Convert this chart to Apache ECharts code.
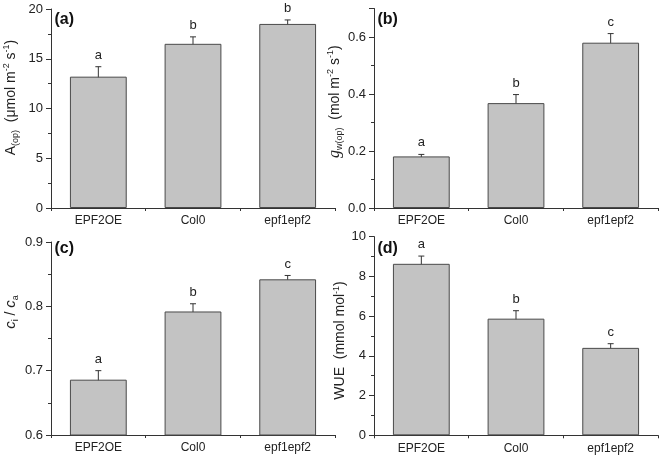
<!DOCTYPE html>
<html><head><meta charset="utf-8">
<script src="https://cdn.jsdelivr.net/npm/echarts@6/dist/echarts.min.js"></script>
<style>html,body{margin:0;padding:0;background:#fff}#c{width:662px;height:464px}</style>
</head><body><div id="c"></div>
<script>
const categories = ['EPF2OE', 'Col0', 'epf1epf2'];
const aValues = [13.2, 16.5, 18.5];
const aErr = [1.0, 0.7, 0.4];
const aLetters = ['a', 'b', 'b'];
const gValues = [0.181, 0.368, 0.580];
const gErr = [0.007, 0.030, 0.032];
const gLetters = ['a', 'b', 'c'];
const ciValues = [0.686, 0.792, 0.842];
const ciErr = [0.014, 0.012, 0.006];
const ciLetters = ['a', 'b', 'c'];
const wueValues = [8.63, 5.87, 4.40];
const wueErr = [0.39, 0.40, 0.21];
const wueLetters = ['a', 'b', 'c'];
const panelLabels = ['(a)', '(b)', '(c)', '(d)'];

const FONT = 'Liberation Sans, Arial, sans-serif';
const AX = '#333';
const TXT = '#222';

const grids = [
  {left: 51, top: 9, width: 284, height: 199},
  {left: 374, top: 8.5, width: 284, height: 199.5},
  {left: 51, top: 242, width: 284, height: 193},
  {left: 374, top: 236.6, width: 284, height: 198.7}
];

const panels = [
  {vals: aValues, err: aErr, let: aLetters, min: 0, max: 20, interval: 5, dec: 0, hideMax: false,
   name: '{n|A}{sub|(op)}{n|  (μmol m}{sup|-2}{n| s}{sup|-1}{n|)}', gap: 31, pad: [0, 0, 0, 22]},
  {vals: gValues, err: gErr, let: gLetters, min: 0, max: 0.7, interval: 0.2, dec: 1, hideMax: true,
   name: '{g|g}{sub|w(op)}{n|  (mol m}{sup|-2}{n| s}{sup|-1}{n|)}', gap: 30, pad: [0, 0, 0, 13]},
  {vals: ciValues, err: ciErr, let: ciLetters, min: 0.6, max: 0.9, interval: 0.1, dec: 1, hideMax: false,
   name: '{i|c}{sub|i}{n| / }{i|c}{sub|a}', gap: 31, pad: [0, 0, 0, 53]},
  {vals: wueValues, err: wueErr, let: wueLetters, min: 0, max: 10, interval: 2, dec: 0, hideMax: false,
   name: '{n|WUE  (mmol mol}{sup|-1}{n|)}', gap: 24, pad: [0, 9, 0, 0]}
];

const rich = {
  n: {fontSize: 14, fontFamily: FONT, color: TXT, lineHeight: 18, verticalAlign: 'middle'},
  g: {fontSize: 16, fontFamily: 'Liberation Serif, serif', fontStyle: 'italic', color: TXT, lineHeight: 18, verticalAlign: 'middle'},
  i: {fontSize: 15, fontFamily: FONT, fontStyle: 'italic', color: TXT, lineHeight: 18, verticalAlign: 'middle'},
  sub: {fontSize: 9, fontFamily: FONT, color: TXT, lineHeight: 18, verticalAlign: 'bottom'},
  sup: {fontSize: 9, fontFamily: FONT, color: TXT, lineHeight: 18, verticalAlign: 'top'}
};

const xAxis = [], yAxis = [], series = [], title = [];
panels.forEach((p, k) => {
  xAxis.push({
    type: 'category', gridIndex: k, data: categories, boundaryGap: true,
    axisLine: {lineStyle: {color: AX, width: 1}},
    axisTick: {alignWithLabel: true, length: 4, lineStyle: {color: AX}},
    axisLabel: {color: TXT, fontSize: 12, fontFamily: FONT, margin: 7}
  });
  xAxis.push({
    type: 'category', gridIndex: k, data: categories, boundaryGap: true, position: 'bottom',
    axisLine: {show: false},
    axisTick: {show: true, length: 3, lineStyle: {color: AX}},
    axisLabel: {show: false}
  });
  yAxis.push({
    type: 'value', gridIndex: k, min: p.min, max: p.max, interval: p.interval,
    splitLine: {show: false},
    axisLine: {show: true, lineStyle: {color: AX, width: 1}},
    axisTick: {show: true, length: 5, lineStyle: {color: AX}},
    minorTick: {show: true, splitNumber: 2, length: 3, lineStyle: {color: AX}},
    axisLabel: {color: TXT, fontSize: 13, fontFamily: FONT, margin: 8,
      showMaxLabel: !p.hideMax,
      formatter: v => v.toFixed(p.dec)},
    name: p.name, nameLocation: 'middle', nameGap: p.gap,
    nameTextStyle: {rich: rich, padding: p.pad}
  });
  series.push({
    type: 'bar', xAxisIndex: 2 * k, yAxisIndex: k, data: p.vals, barWidth: '60%',
    itemStyle: {color: '#c3c3c3', borderColor: '#4a4a4a', borderWidth: 1},
    silent: true
  });
  series.push({
    type: 'custom', xAxisIndex: 2 * k, yAxisIndex: k,
    data: p.vals.map((v, i) => [i, v - p.err[i], v + p.err[i]]),
    renderItem: (params, api) => {
      const lo = api.coord([api.value(0), api.value(1)]);
      const hi = api.coord([api.value(0), api.value(2)]);
      const x = lo[0], cw = 3;
      const st = {stroke: '#333', lineWidth: 1};
      return {type: 'group', children: [
        {type: 'line', shape: {x1: x, y1: lo[1], x2: x, y2: hi[1]}, style: st},
        {type: 'line', shape: {x1: x - cw, y1: lo[1], x2: x + cw, y2: lo[1]}, style: st},
        {type: 'line', shape: {x1: x - cw, y1: hi[1], x2: x + cw, y2: hi[1]}, style: st},
        {type: 'text', style: {text: p.let[params.dataIndex], x: x, y: hi[1] - 5,
          align: 'center', verticalAlign: 'bottom', fontSize: 13, fontFamily: FONT, fill: TXT}}
      ]};
    },
    encode: {x: 0, y: [1, 2]},
    silent: true
  });
  title.push({
    text: panelLabels[k], left: grids[k].left + 3.5, top: (k < 2 ? 12 : 241),
    padding: 0,
    textStyle: {fontSize: 16, fontWeight: 'bold', fontFamily: FONT, color: '#111'}
  });
});

const chart = echarts.init(document.getElementById('c'), null, {renderer: 'canvas'});
chart.setOption({
  animation: false,
  backgroundColor: '#fff',
  title: title,
  grid: grids,
  xAxis: xAxis,
  yAxis: yAxis,
  series: series
});
</script></body></html>
